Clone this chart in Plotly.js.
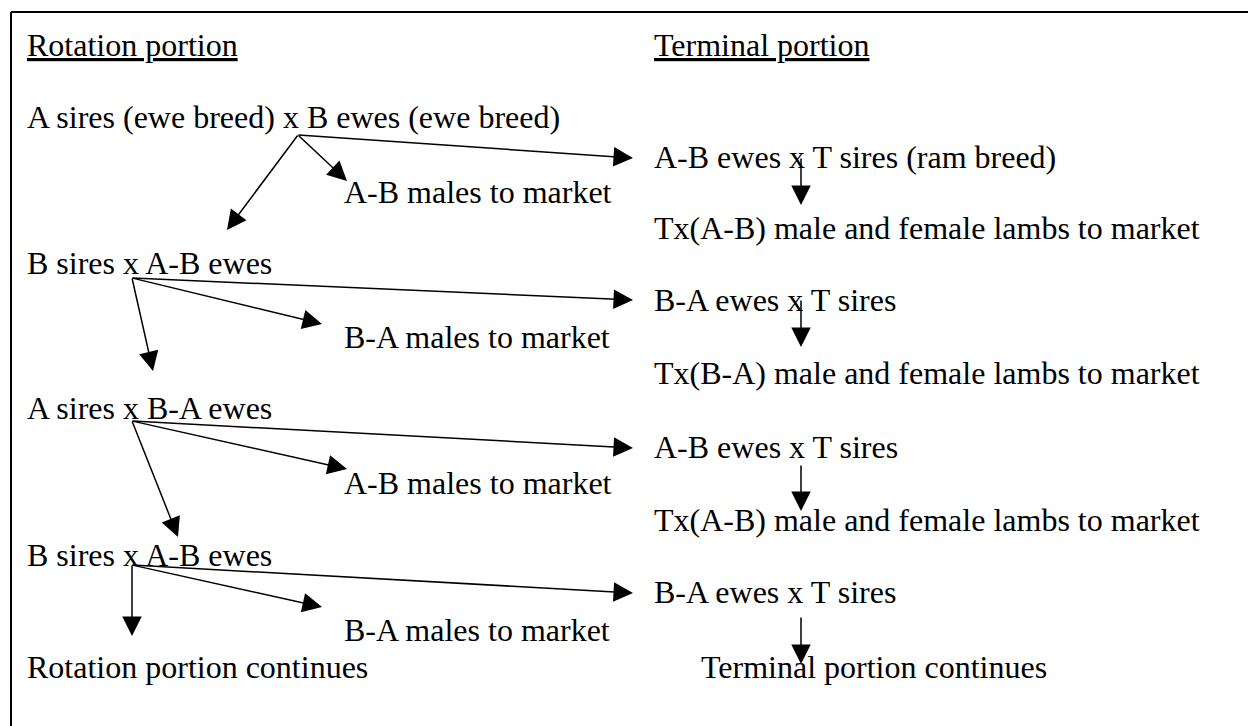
<!DOCTYPE html>
<html>
<head>
<meta charset="utf-8">
<script src="https://cdn.plot.ly/plotly-3.0.1.min.js"></script>
<style>html,body{margin:0;padding:0;background:#fff;}#chart{width:1248px;height:726px;}</style>
</head>
<body>
<div id="chart"></div>
<script>
// ---- content ----
var headings = ["Rotation portion", "Terminal portion"];
var rotationCrosses = ["A sires (ewe breed) x B ewes (ewe breed)", "B sires x A-B ewes", "A sires x B-A ewes", "B sires x A-B ewes"];
var marketMales = ["A-B males to market", "B-A males to market", "A-B males to market", "B-A males to market"];
var terminalCrosses = ["A-B ewes x T sires (ram breed)", "B-A ewes x T sires", "A-B ewes x T sires", "B-A ewes x T sires"];
var terminalLambs = ["Tx(A-B) male and female lambs to market", "Tx(B-A) male and female lambs to market", "Tx(A-B) male and female lambs to market"];
var continues = ["Rotation portion continues", "Terminal portion continues"];

// ---- layout positions (pixel space) ----
var headingPos = [[26, 45], [653, 45]];
var rotationPos = [[26, 117], [26, 263], [26, 408], [26, 555]];
var marketPos = [[343, 192], [343, 337], [343, 483], [343, 630]];
var terminalPos = [[653, 157], [653, 300], [653, 447], [653, 592]];
var lambsPos = [[653, 228], [653, 373], [653, 520]];
var continuesPos = [[26, 667], [700, 667]];

// arrows: [fromX, fromY, toX, toY]
var arrows = [
  [298, 135, 227, 230], [298, 135, 347, 181], [298, 135, 633, 158],
  [132, 278, 153, 371], [132, 278, 322, 324], [132, 278, 633, 300],
  [132, 421, 178, 537], [132, 421, 347, 469], [132, 421, 633, 448],
  [132, 565, 132, 636], [132, 565, 322, 607], [132, 565, 633, 593],
  [801, 158, 801, 205], [801, 300, 801, 347], [801, 465, 801, 511], [801, 617, 801, 664]
];

var FONT = {family: "'Liberation Serif'", size: 32, color: "#000"};
var annotations = [];
function addText(list, pos, wrap) {
  list.forEach(function (t, i) {
    annotations.push({
      x: pos[i][0], y: pos[i][1], xref: "x", yref: "y",
      text: wrap ? "<u>" + t + "</u>" : t,
      showarrow: false, xanchor: "left", yanchor: "middle",
      font: FONT, borderpad: 0
    });
  });
}
addText(headings, headingPos, true);
addText(rotationCrosses, rotationPos);
addText(marketMales, marketPos);
addText(terminalCrosses, terminalPos);
addText(terminalLambs, lambsPos);
addText(continues, continuesPos);

arrows.forEach(function (a) {
  annotations.push({
    x: a[2], y: a[3], ax: a[0], ay: a[1],
    xref: "x", yref: "y", axref: "x", ayref: "y",
    text: "", showarrow: true, arrowhead: 2, arrowsize: 2.6, arrowwidth: 1.5,
    arrowcolor: "#000", standoff: 0, startstandoff: 0,
    font: {size: 1}, borderpad: 0
  });
});

var shapes = [
  {type: "line", xref: "x", yref: "y", x0: 11, y0: 12, x1: 1248, y1: 12, line: {color: "#000", width: 2}},
  {type: "line", xref: "x", yref: "y", x0: 11, y0: 12, x1: 11, y1: 726, line: {color: "#000", width: 2}}
];

var layout = {
  width: 1248, height: 726,
  margin: {l: 0, r: 0, t: 0, b: 0, pad: 0},
  paper_bgcolor: "#fff", plot_bgcolor: "#fff",
  font: {family: "'Liberation Serif'"},
  xaxis: {range: [0, 1248], visible: false, fixedrange: true},
  yaxis: {range: [726, 0], visible: false, fixedrange: true},
  showlegend: false,
  annotations: annotations,
  shapes: shapes
};

Plotly.newPlot("chart", [{x: [], y: [], type: "scatter", mode: "markers", hoverinfo: "skip"}], layout, {staticPlot: true, displayModeBar: false});
</script>
</body>
</html>
